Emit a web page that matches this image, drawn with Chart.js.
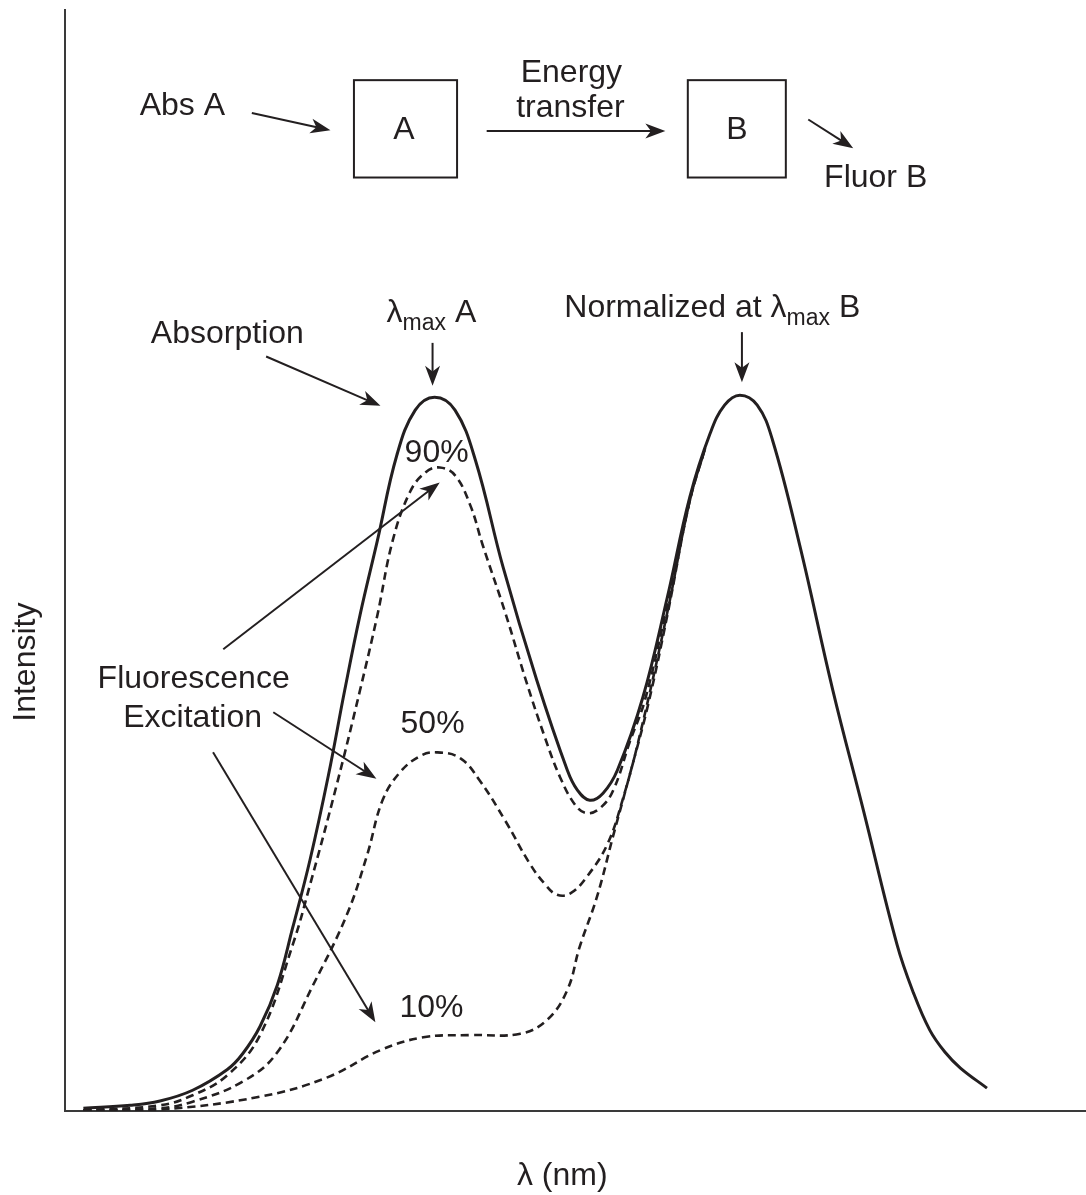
<!DOCTYPE html>
<html>
<head>
<meta charset="utf-8">
<title>Absorption vs fluorescence excitation</title>
<script src="https://cdn.jsdelivr.net/npm/chart.js@4.4.1/dist/chart.umd.min.js"></script>
<style>
  html, body { margin: 0; padding: 0; background: #fff; }
  canvas { display: block; }
</style>
</head>
<body>
<canvas id="spectra" width="1086" height="1195"></canvas>
<script>
// wavelength (arbitrary units, no ticks on the original) and intensity normalized at lambda max B
const absX = [1.8, 6.4, 9.3, 12.5, 15.9, 17.4, 19.1, 20.8, 22.3, 24.0, 25.8, 27.4, 28.9, 30.6, 32.5, 34.3, 36.2, 38.2, 40.2, 42.9, 46.2, 49.2, 50.2, 51.4, 52.7, 54.1, 56.6, 59.0, 61.2, 63.2, 64.6, 66.1, 67.8, 69.3, 72.0, 75.2, 78.2, 81.5, 83.1, 84.7, 86.2, 87.7, 90.3];
const absY = [0.004, 0.008, 0.014, 0.029, 0.058, 0.080, 0.118, 0.176, 0.256, 0.351, 0.469, 0.588, 0.693, 0.797, 0.916, 0.979, 0.997, 0.979, 0.909, 0.760, 0.602, 0.476, 0.448, 0.434, 0.444, 0.476, 0.578, 0.718, 0.858, 0.947, 0.986, 1.000, 0.986, 0.937, 0.788, 0.588, 0.420, 0.232, 0.165, 0.113, 0.082, 0.060, 0.032];

const ex90X = [1.8, 9.3, 12.5, 15.9, 19.1, 22.3, 24.0, 26.6, 28.9, 30.6, 32.1, 33.8, 35.3, 36.7, 38.2, 39.7, 40.9, 43.1, 45.2, 47.0, 48.5, 50.0, 51.1, 52.4, 53.7, 55.3, 56.8, 59.0, 61.2, 62.7];
const ex90Y = [0.001, 0.008, 0.022, 0.050, 0.106, 0.232, 0.316, 0.455, 0.588, 0.693, 0.797, 0.865, 0.892, 0.899, 0.888, 0.846, 0.791, 0.697, 0.599, 0.522, 0.466, 0.427, 0.416, 0.423, 0.448, 0.515, 0.574, 0.707, 0.853, 0.926];

const ex50X = [1.8, 9.3, 12.5, 17.4, 20.8, 24.3, 27.6, 29.6, 31.1, 32.8, 34.8, 36.4, 38.7, 40.6, 43.1, 45.5, 47.0, 48.2, 49.5, 51.1, 53.1, 54.6, 56.3, 59.0, 61.2, 62.7];
const ex50Y = [0.001, 0.004, 0.013, 0.041, 0.082, 0.176, 0.274, 0.358, 0.434, 0.473, 0.496, 0.501, 0.493, 0.462, 0.406, 0.346, 0.317, 0.302, 0.304, 0.327, 0.372, 0.434, 0.525, 0.697, 0.853, 0.926];

const ex10X = [1.8, 9.3, 19.1, 25.7, 30.9, 35.1, 39.7, 44.6, 47.2, 49.2, 50.4, 52.1, 53.7, 55.3, 57.1, 59.0, 61.2, 62.7];
const ex10Y = [0.001, 0.002, 0.020, 0.047, 0.085, 0.103, 0.106, 0.108, 0.127, 0.169, 0.229, 0.299, 0.385, 0.469, 0.567, 0.693, 0.853, 0.926];

const xRange = [0, 100];
const yRange = [0, 1.538];

const INK = '#231f20';
const FONT = '"Liberation Sans", Arial, Helvetica, sans-serif';

function pts(xs, ys) {
  return xs.map((x, i) => ({ x: x, y: ys[i] }));
}

// annotations, placed in data units so they follow the scales
const texts = [
  { t: 'Abs A', x: 11.5, y: 1.391 },
  { t: 'A', x: 33.2, y: 1.358 },
  { t: 'B', x: 65.8, y: 1.358 },
  { t: 'Energy', x: 49.6, y: 1.437 },
  { t: 'transfer', x: 49.5, y: 1.388 },
  { t: 'Fluor B', x: 79.4, y: 1.291 },
  { t: 'Absorption', x: 15.9, y: 1.073 },
  { t: '90%', x: 36.4, y: 0.906 },
  { t: '50%', x: 36.0, y: 0.528 },
  { t: '10%', x: 35.9, y: 0.131 },
  { t: 'Fluorescence', x: 12.6, y: 0.591 },
  { t: 'Excitation', x: 12.5, y: 0.536 },
  { t: 'λ (nm)', x: 48.7, y: -0.103 }
];

const lambdaLabels = [
  { before: 'λ', after: ' A', x: 31.5, y: 1.102 },
  { before: 'Normalized at λ', after: ' B', x: 48.9, y: 1.109 }
];

const arrows = [
  [18.3, 1.394, 26.0, 1.370],
  [41.3, 1.369, 58.8, 1.369],
  [72.8, 1.385, 77.2, 1.345],
  [19.7, 1.054, 30.9, 0.985],
  [15.5, 0.645, 36.7, 0.878],
  [20.4, 0.557, 30.5, 0.464],
  [14.5, 0.501, 30.4, 0.124],
  [36.0, 1.073, 36.0, 1.013],
  [66.3, 1.088, 66.3, 1.018]
];

const boxes = [
  [28.3, 1.440, 38.4, 1.304],
  [61.0, 1.440, 70.6, 1.304]
];

function drawArrow(ctx, x1, y1, x2, y2) {
  const ang = Math.atan2(y2 - y1, x2 - x1);
  const len = 20, half = 7.5;
  ctx.beginPath();
  ctx.moveTo(x1, y1);
  ctx.lineTo(x2 - Math.cos(ang) * len * 0.7, y2 - Math.sin(ang) * len * 0.7);
  ctx.stroke();
  ctx.save();
  ctx.translate(x2, y2);
  ctx.rotate(ang);
  ctx.beginPath();
  ctx.moveTo(0, 0);
  ctx.lineTo(-len, -half);
  ctx.lineTo(-len * 0.72, 0);
  ctx.lineTo(-len, half);
  ctx.closePath();
  ctx.fill();
  ctx.restore();
}

const annotate = {
  id: 'annotate',
  afterDraw(chart) {
    const ctx = chart.ctx;
    const sx = chart.scales.x, sy = chart.scales.y;
    const px = v => sx.getPixelForValue(v);
    const py = v => sy.getPixelForValue(v);

    ctx.save();
    ctx.fillStyle = INK;
    ctx.strokeStyle = INK;
    ctx.lineWidth = 2;

    boxes.forEach(b => {
      ctx.strokeRect(px(b[0]), py(b[1]), px(b[2]) - px(b[0]), py(b[3]) - py(b[1]));
    });

    arrows.forEach(a => drawArrow(ctx, px(a[0]), py(a[1]), px(a[2]), py(a[3])));

    ctx.font = '32px ' + FONT;
    ctx.textAlign = 'center';
    ctx.textBaseline = 'alphabetic';
    texts.forEach(l => ctx.fillText(l.t, px(l.x), py(l.y)));

    // lambda with a "max" subscript
    ctx.textAlign = 'left';
    lambdaLabels.forEach(l => {
      let x = px(l.x);
      const y = py(l.y);
      ctx.font = '32px ' + FONT;
      ctx.fillText(l.before, x, y);
      x += ctx.measureText(l.before).width;
      ctx.font = '23px ' + FONT;
      ctx.fillText('max', x, y + 8);
      x += ctx.measureText('max').width;
      ctx.font = '32px ' + FONT;
      ctx.fillText(l.after, x, y);
    });

    // y axis title
    ctx.font = '32px ' + FONT;
    ctx.translate(px(-2.94), py(0.627));
    ctx.rotate(-Math.PI / 2);
    ctx.textAlign = 'center';
    ctx.fillText('Intensity', 0, 0);
    ctx.restore();
  }
};

const hiddenAxis = (range) => ({
  type: 'linear',
  min: range[0],
  max: range[1],
  ticks: { display: false },
  grid: { display: false, drawTicks: false },
  border: { display: true, color: '#3a3a3a', width: 2 }
});

const dashed = (label, data) => ({
  label: label,
  data: data,
  borderColor: INK,
  borderWidth: 2.6,
  borderDash: [8, 5],
  pointRadius: 0,
  fill: false,
  tension: 0.4
});

const spectra = new Chart(document.getElementById('spectra').getContext('2d'), {
  type: 'line',
  data: {
    datasets: [
      {
        label: 'Absorption',
        data: pts(absX, absY),
        borderColor: INK,
        borderWidth: 3,
        pointRadius: 0,
        fill: false,
        tension: 0.4
      },
      dashed('Excitation 90%', pts(ex90X, ex90Y)),
      dashed('Excitation 50%', pts(ex50X, ex50Y)),
      dashed('Excitation 10%', pts(ex10X, ex10Y))
    ]
  },
  options: {
    responsive: false,
    animation: false,
    layout: { padding: { left: 65, top: 10, right: 0, bottom: 84 } },
    plugins: {
      legend: { display: false },
      tooltip: { enabled: false }
    },
    scales: {
      x: hiddenAxis(xRange),
      y: hiddenAxis(yRange)
    }
  },
  plugins: [annotate]
});
</script>
</body>
</html>
